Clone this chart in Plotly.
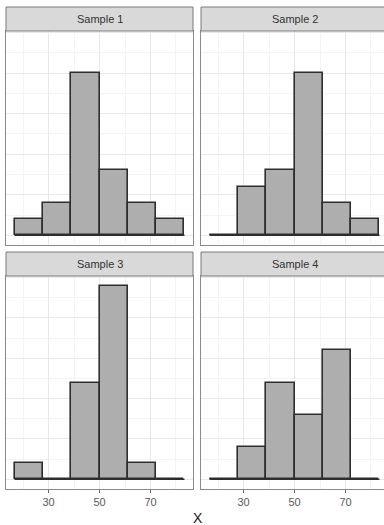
import plotly.graph_objects as go

# Histogram bins shared by every sample (bin width 100/9)
bin_edges = [16.67, 27.78, 38.89, 50.0, 61.11, 72.22, 83.33]

# Counts per bin for each sample
panel_names = ["Sample 1", "Sample 2", "Sample 3", "Sample 4"]
counts_s1 = [1, 2, 10, 4, 2, 1]
counts_s2 = [0, 3, 4, 10, 2, 1]
counts_s3 = [1, 0, 6, 12, 1, 0]
counts_s4 = [0, 2, 6, 4, 8, 0]
all_counts = [counts_s1, counts_s2, counts_s3, counts_s4]

x_ticks = [30, 50, 70]
x_title = "X"

W, H = 384, 525

centers = [(a + b) / 2 for a, b in zip(bin_edges[:-1], bin_edges[1:])]
widths = [b - a for a, b in zip(bin_edges[:-1], bin_edges[1:])]

# Panel geometry in pixels: (left, right) per column, (top, bottom) per row
col_px = [(6, 193), (201, 388)]
row_px = [(31, 245), (276, 489)]
strip_h = 24
px_per_unit = (193 - 6) / (86.67 - 13.33)
x_lo = 13.33

fig = go.Figure()

axis_line = "#8A8A8A"
grid_major = "#E9E9E9"
grid_minor = "#F4F4F4"
font_family = "Liberation Sans, Arial, sans-serif"

for i, counts in enumerate(all_counts):
    r, c = divmod(i, 2)
    n = i + 1
    xa = "x" if n == 1 else f"x{n}"
    ya = "y" if n == 1 else f"y{n}"
    fig.add_trace(go.Bar(
        x=centers, y=counts, width=widths,
        marker=dict(color="#AEAEAE", line=dict(color="#2E2E2E", width=1.6)),
        xaxis=xa, yaxis=ya, showlegend=False, hoverinfo="x+y",
    ))
    # baseline under the bins (zero-count bins show as a flat line)
    fig.add_trace(go.Scatter(
        x=[bin_edges[0], bin_edges[-1]], y=[0, 0], mode="lines",
        line=dict(color="#2E2E2E", width=1.6),
        xaxis=xa, yaxis=ya, showlegend=False, hoverinfo="skip",
    ))

    left, right = col_px[c]
    top, bottom = row_px[r]
    clip_right = min(right, W)
    x_hi = x_lo + (clip_right - left) / px_per_unit
    suffix = "" if n == 1 else str(n)
    bottom_row = r == 1

    fig.layout["xaxis" + suffix] = dict(
        domain=[left / W, clip_right / W],
        range=[x_lo, x_hi],
        anchor=ya,
        tickvals=x_ticks,
        showticklabels=bottom_row,
        ticks="outside" if bottom_row else "",
        ticklen=3, tickwidth=1, tickcolor="#666666",
        tickfont=dict(family=font_family, size=11, color="#5A5A5A"),
        showgrid=True, gridcolor=grid_major, gridwidth=1,
        minor=dict(tickvals=[20, 40, 60, 80], showgrid=True, gridcolor=grid_minor, gridwidth=1),
        showline=True, linecolor=axis_line, linewidth=1, mirror=True,
        zeroline=False, fixedrange=True,
    )
    fig.layout["yaxis" + suffix] = dict(
        domain=[1 - bottom / H, 1 - top / H],
        range=[-0.6, 12.6],
        anchor=xa,
        tickmode="linear", tick0=0, dtick=2.5,
        showticklabels=False, ticks="",
        showgrid=True, gridcolor=grid_major, gridwidth=1,
        minor=dict(tick0=0, dtick=1.25, showgrid=True, gridcolor=grid_minor, gridwidth=1),
        showline=True, linecolor=axis_line, linewidth=1, mirror=(c == 0),
        zeroline=False, fixedrange=True,
    )

    # facet strip
    fig.add_shape(
        type="rect", xref="paper", yref="paper",
        x0=left / W, x1=right / W,
        y0=1 - top / H, y1=1 - (top - strip_h) / H,
        fillcolor="#D9D9D9", line=dict(color="#7A7A7A", width=1), layer="above",
    )
    fig.add_annotation(
        text=panel_names[i], xref="paper", yref="paper",
        x=(left + right) / 2 / W, y=1 - (top - strip_h / 2) / H,
        showarrow=False, xanchor="center", yanchor="middle",
        font=dict(family=font_family, size=11, color="#333333"),
    )

fig.add_annotation(
    text=x_title, xref="paper", yref="paper",
    x=198 / W, y=1 - 518 / H, showarrow=False,
    xanchor="center", yanchor="middle",
    font=dict(family=font_family, size=14, color="#1A1A1A"),
)

fig.update_layout(
    width=W, height=H,
    margin=dict(l=0, r=0, t=0, b=0),
    paper_bgcolor="white", plot_bgcolor="white",
    bargap=0, barmode="overlay",
)

fig.write_html("out.html")
